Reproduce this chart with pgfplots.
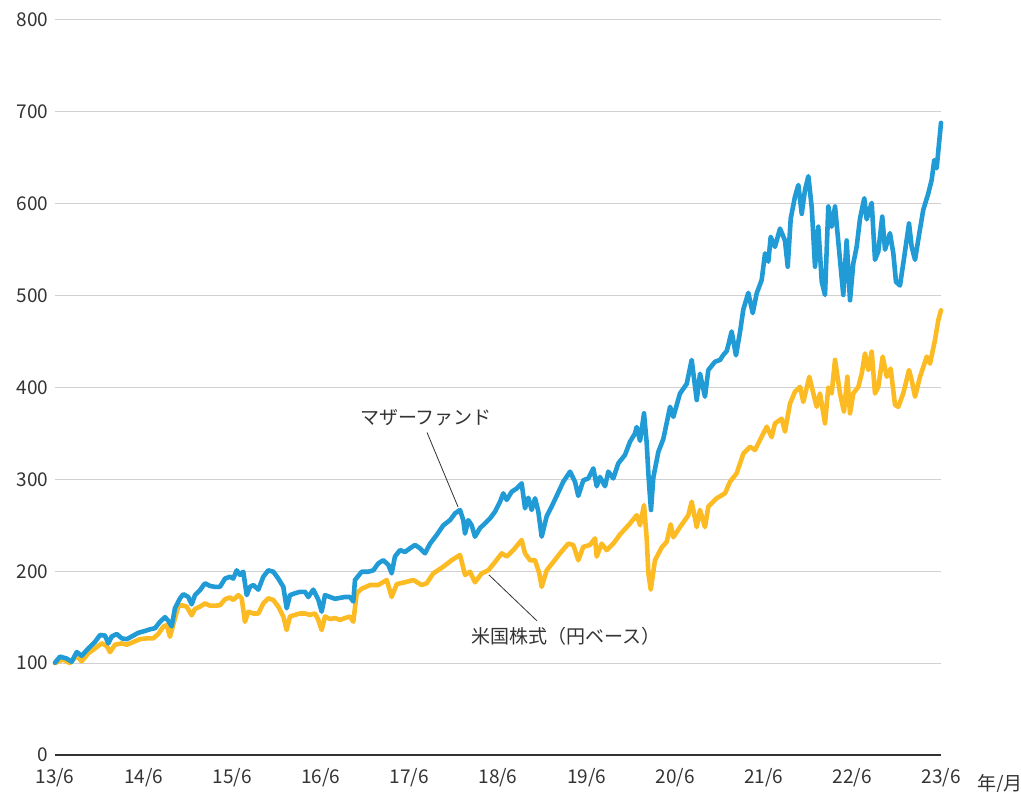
\documentclass[border=0pt]{standalone}
\usepackage{fontspec}
\setmainfont{Noto Sans CJK JP}
\usepackage{pgfplots}
\usepackage{pgfplotstable}
\pgfplotsset{compat=1.18}
\definecolor{fundblue}{RGB}{33,155,214}
\definecolor{usyellow}{RGB}{252,187,34}
\definecolor{txtgray}{RGB}{51,51,51}
\definecolor{gridgray}{RGB}{208,208,208}

\pgfplotstableread{
t v
0.000 100.5
0.056 107
0.132 105
0.188 101.5
0.245 112
0.301 108
0.376 116
0.451 123
0.508 130.6
0.564 130
0.602 121.5
0.640 129
0.696 131.7
0.753 127
0.809 126
0.866 129
0.940 133
1.016 135
1.072 136.8
1.129 138
1.185 145
1.242 150
1.279 146
1.317 140
1.354 159.7
1.411 170.5
1.448 175
1.504 172
1.543 164
1.580 174
1.637 179.6
1.693 186.9
1.749 184
1.806 183
1.862 183
1.919 192
1.975 194
2.012 192
2.051 201
2.088 196
2.125 199.5
2.164 174
2.201 183
2.238 185
2.295 180
2.351 194
2.407 201
2.464 199.5
2.520 192
2.577 183
2.615 159.7
2.652 174
2.709 176
2.765 177.6
2.822 177.6
2.859 172
2.915 180
2.972 169
3.010 156
3.047 174
3.104 172
3.160 170
3.217 171
3.273 172
3.330 172
3.367 167
3.386 190.5
3.462 199.5
3.536 199.5
3.593 201
3.649 208.6
3.705 212
3.762 207
3.800 197.7
3.837 216
3.894 223
3.950 221
4.007 225
4.063 228.6
4.120 225
4.176 219.5
4.233 230
4.308 239.5
4.383 250
4.458 255.6
4.515 263
4.571 266.7
4.608 255.6
4.628 241
4.665 255.6
4.703 250
4.740 237.6
4.797 247
4.853 252
4.910 257.6
4.966 264.8
5.023 275.7
5.060 284.8
5.098 277.6
5.155 286.6
5.211 290
5.267 295.7
5.305 268.5
5.342 280
5.380 266.7
5.418 279.4
5.455 265
5.493 237.6
5.550 260
5.606 270.5
5.662 282
5.737 297.5
5.813 308.4
5.869 297.5
5.906 282
5.963 299
6.019 301
6.076 312
6.114 292.5
6.151 302.6
6.208 292.5
6.245 308.4
6.301 301
6.358 317.5
6.433 326.5
6.490 341
6.546 350
6.565 357
6.603 342
6.648 371.9
6.678 340
6.697 306.6
6.716 280
6.727 266.7
6.753 302
6.810 330
6.866 344
6.942 379
6.979 368
7.054 393.5
7.130 404
7.186 430
7.243 386.4
7.280 415
7.336 390
7.374 419
7.449 428
7.506 430
7.543 435.4
7.581 439.6
7.599 446
7.637 461
7.686 435
7.731 460
7.769 485
7.825 503
7.875 481
7.920 502.6
7.976 517
8.014 546
8.051 537
8.078 564
8.126 553
8.183 573
8.239 560
8.270 531.5
8.304 584
8.352 607.7
8.390 620.4
8.428 589
8.465 615
8.503 630
8.541 596
8.578 531.5
8.615 575
8.654 515
8.691 500.7
8.728 597
8.766 575
8.804 597
8.860 539
8.897 500.7
8.935 560
8.973 495
9.010 535
9.048 553
9.086 584
9.134 606
9.161 583
9.218 601
9.255 539
9.292 548
9.337 586
9.368 550
9.424 568
9.462 546
9.492 515
9.537 511
9.574 535
9.639 578.5
9.669 553
9.707 539
9.752 566
9.800 593.5
9.857 611.3
9.895 626
9.924 647.6
9.951 638.6
9.985 673
10.000 688
}\fundtable

\pgfplotstableread{
t v
0.000 100
0.090 104
0.169 100
0.245 108
0.301 102
0.376 110.7
0.451 116
0.527 121.5
0.584 118.7
0.621 112
0.677 120
0.753 121.5
0.809 120
0.884 123
0.959 126
1.035 127
1.109 127
1.166 131.7
1.222 139.7
1.261 141.5
1.298 128.7
1.354 148.8
1.392 161.5
1.430 163
1.486 161.5
1.543 152
1.580 159
1.637 161.5
1.693 165
1.749 162.5
1.806 162.5
1.862 163
1.919 169.5
1.975 171.5
2.012 168.7
2.069 174
2.107 170.6
2.144 145
2.182 156
2.238 154
2.295 154
2.351 165
2.407 170.6
2.464 168.7
2.520 161.5
2.577 150.7
2.615 136
2.652 150.7
2.709 152.5
2.765 154
2.822 154
2.878 152.5
2.935 154
2.972 147
3.010 136
3.047 150.7
3.104 148
3.160 149
3.217 147
3.273 149
3.330 150.7
3.367 145
3.405 176
3.462 181
3.555 185
3.649 185
3.744 190.5
3.800 172
3.857 186
3.950 188
4.044 190.5
4.139 185
4.195 186.9
4.270 197.7
4.383 205
4.477 212
4.571 217.7
4.628 196
4.684 199.5
4.740 188
4.816 197.7
4.890 201
4.966 210
5.042 219.5
5.098 216
5.173 223
5.267 234
5.305 219.5
5.361 212
5.418 212
5.466 197.7
5.493 183
5.550 201
5.624 210
5.700 219.5
5.793 230
5.850 228.6
5.906 212
5.963 226.6
6.038 228.6
6.095 235.8
6.114 216
6.170 230
6.227 223
6.301 230
6.377 240
6.490 252
6.565 261
6.603 250
6.648 272
6.678 236
6.697 198
6.724 180
6.772 212
6.848 226
6.904 232
6.949 251
6.979 237
7.054 248
7.148 261
7.186 275.7
7.243 248
7.280 266.7
7.336 248
7.374 270.5
7.468 279.4
7.562 284.8
7.619 297.5
7.694 306.6
7.769 328
7.844 335.4
7.901 332
7.957 342.8
8.033 357.3
8.089 346
8.126 361
8.202 366
8.239 352
8.296 382.7
8.352 395.4
8.409 400.7
8.446 384.3
8.514 411.7
8.559 393.5
8.597 379
8.634 393.5
8.691 361
8.728 400
8.766 393.5
8.804 430
8.860 393.5
8.905 373.6
8.943 411.7
8.973 371.9
9.010 393.5
9.067 400.7
9.105 415
9.142 437
9.180 419
9.218 439
9.255 393.5
9.292 400.7
9.342 433.6
9.387 411.7
9.432 420.6
9.481 381
9.518 379
9.574 393.5
9.639 419
9.669 408
9.707 390
9.763 411.7
9.839 433.6
9.876 426
9.932 451.7
9.970 473.5
10.000 484
}\ustable

\begin{document}
\begin{tikzpicture}
\useasboundingbox (-55pt,-37pt) rectangle (966pt,755pt);
\begin{axis}[
  at={(0,0)}, anchor=south west,
  scale only axis,
  width=886pt, height=735pt,
  xmin=0, xmax=10, ymin=0, ymax=800,
  clip=false,
  axis x line*=bottom, axis y line*=left,
  x axis line style={-, draw=txtgray, line width=1.8pt},
  y axis line style={draw=none},
  tick style={draw=none},
  xtick={0,1,...,10},
  xticklabels={13/6,14/6,15/6,16/6,17/6,18/6,19/6,20/6,21/6,22/6,23/6},
  ytick={0,100,...,800},
  ymajorgrids,
  major grid style={draw=gridgray, line width=1pt},
  /pgf/number format/assume math mode=true,
  ticklabel style={font=\fontsize{19}{19}\selectfont, text=txtgray},
  yticklabel style={xshift=-3pt},
  xticklabel style={yshift=-10pt},
]
\addplot[usyellow, line width=4.6pt, line join=round, line cap=round] table[x=t, y=v] {\ustable};
\addplot[fundblue, line width=4.6pt, line join=round, line cap=round] table[x=t, y=v] {\fundtable};
\draw[txtgray, line width=0.8pt] (axis cs:4.199,351) -- (axis cs:4.549,270);
\draw[txtgray, line width=0.8pt] (axis cs:4.898,196) -- (axis cs:5.44,146);
\node[text=txtgray, font=\fontsize{19}{19}\selectfont] at (axis cs:4.187,367) {マザーファンド};
\node[text=txtgray, font=\fontsize{19}{19}\selectfont] at (axis cs:5.767,129.5) {米国株式（円ベース）};
\node[text=txtgray, font=\fontsize{19}{19}\selectfont, anchor=west] at (axis cs:10.37,0) [yshift=-29pt] {年/月};
\end{axis}
\end{tikzpicture}
\end{document}
